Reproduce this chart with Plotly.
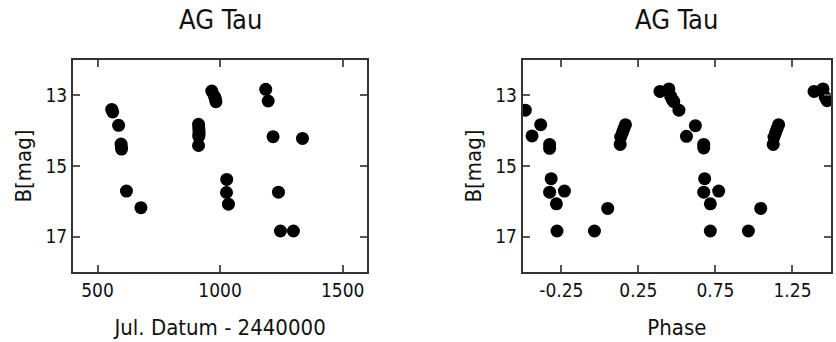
import plotly.graph_objects as go
from plotly.subplots import make_subplots

# Left panel: Julian date (minus 2440000) vs B magnitude
jd = [558, 562, 586, 596, 597, 598, 618, 677,
      912, 913, 914, 914, 913, 912,
      966, 976, 981, 983,
      1027, 1026, 1034,
      1186, 1196, 1216, 1238, 1246, 1299, 1336]
mag_jd = [13.40, 13.47, 13.85, 14.38, 14.45, 14.52, 15.71, 16.18,
          13.82, 13.92, 14.01, 14.10, 14.16, 14.42,
          12.88, 13.02, 13.10, 13.18,
          15.38, 15.75, 16.08,
          12.83, 13.16, 14.17, 15.74, 16.84, 16.84, 14.22]

# Right panel: phase vs B magnitude (points as drawn, including repeated cycles)
phase = [-0.484, -0.440, -0.384, -0.326, -0.326, -0.316, -0.326, -0.230, -0.282, -0.278,
         -0.035, 0.051,
         0.132, 0.135, 0.146, 0.156, 0.166,
         0.390, 0.448, 0.460, 0.470, 0.480, 0.513, 0.562, 0.620,
         0.674, 0.674, 0.680, 0.674, 0.771, 0.717, 0.717,
         0.964, 1.044,
         1.125, 1.130, 1.140, 1.150, 1.160,
         1.390, 1.448, 1.462, 1.475]
mag_ph = [13.42, 14.15, 13.83, 14.39, 14.50, 15.36, 15.74, 15.71, 16.07, 16.84,
          16.84, 16.20,
          14.39, 14.18, 14.06, 13.94, 13.83,
          12.89, 12.82, 13.03, 13.12, 13.18, 13.42, 14.16, 13.86,
          14.39, 14.49, 15.36, 15.74, 15.71, 16.07, 16.84,
          16.84, 16.20,
          14.39, 14.18, 14.06, 13.94, 13.83,
          12.89, 12.82, 13.05, 13.15]

title_text = "AG Tau"
x_title_left = "Jul. Datum - 2440000"
x_title_right = "Phase"
y_title = "B[mag]"
y_ticks = [13, 15, 17]
x_ticks_left = [500, 1000, 1500]
x_ticks_right = [-0.25, 0.25, 0.75, 1.25]

FONT = "DejaVu Sans Condensed, DejaVu Sans, sans-serif"

fig = make_subplots(rows=1, cols=2, horizontal_spacing=0.2)

mk = dict(color="black", size=13, line=dict(width=0))
fig.add_trace(go.Scatter(x=jd, y=mag_jd, mode="markers", marker=mk, showlegend=False), row=1, col=1)
fig.add_trace(go.Scatter(x=phase, y=mag_ph, mode="markers", marker=mk, showlegend=False), row=1, col=2)

W, H = 836, 342
ml, mr, mt, mb = 73, 3, 60, 70
pw = W - ml - mr
left_dom = [0, (368 - ml) / pw]
right_dom = [(524 - ml) / pw, 1]

axis_common = dict(
    showline=True, linecolor="#333333", linewidth=2, mirror="ticks",
    ticks="inside", ticklen=7, tickwidth=1.5, tickcolor="#555555",
    showgrid=False, zeroline=False,
    tickfont=dict(family=FONT, size=19, color="#111111"),
)

fig.update_xaxes(**axis_common)
fig.update_yaxes(**axis_common)

xt_font = dict(family=FONT, size=22, color="#111111")
fig.update_xaxes(domain=left_dom, range=[400, 1600], tickvals=x_ticks_left,
                 ticktext=[str(v) for v in x_ticks_left],
                 title=dict(text=x_title_left, font=xt_font, standoff=20),
                 row=1, col=1)
fig.update_xaxes(domain=right_dom, range=[-0.5, 1.5], tickvals=x_ticks_right,
                 ticktext=["-0.25", "0.25", "0.75", "1.25"],
                 title=dict(text=x_title_right, font=xt_font, standoff=20),
                 row=1, col=2)
for c in (1, 2):
    fig.update_yaxes(range=[18, 12], tickvals=y_ticks, ticktext=[str(v) for v in y_ticks],
                     title=dict(text=y_title, font=xt_font, standoff=8),
                     row=1, col=c)

# Panel titles
for dom in (left_dom, right_dom):
    fig.add_annotation(text=title_text, xref="paper", yref="paper",
                       x=(dom[0] + dom[1]) / 2, y=1, yshift=41, xanchor="center", yanchor="middle",
                       showarrow=False, font=dict(family=FONT, size=27, color="#111111"))

fig.update_layout(width=W, height=H, margin=dict(l=ml, r=mr, t=mt, b=mb),
                  paper_bgcolor="white", plot_bgcolor="white")

fig.write_html("out.html", config={"displayModeBar": False},
               post_script="document.body.style.margin='0';document.body.style.overflow='hidden';")
